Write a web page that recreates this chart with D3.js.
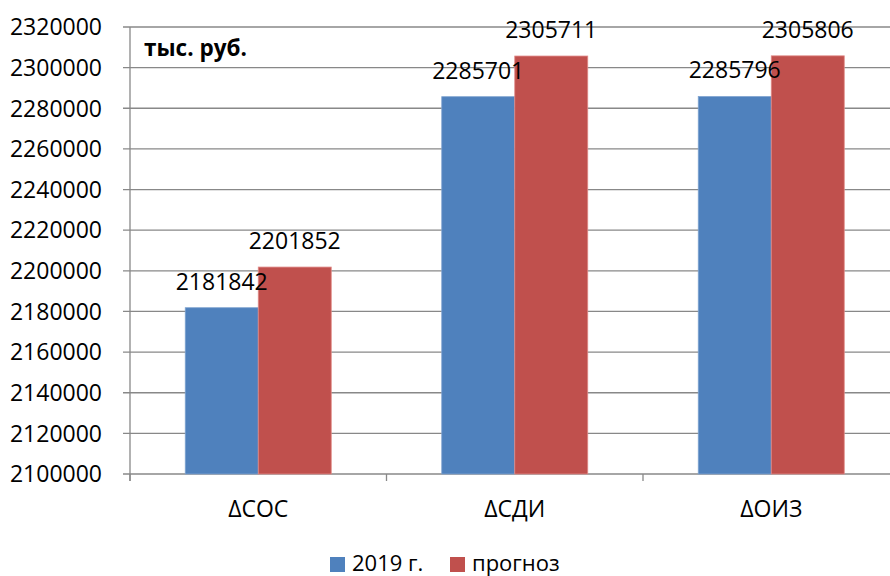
<!DOCTYPE html>
<html>
<head>
<meta charset="utf-8">
<script src="https://cdn.jsdelivr.net/npm/d3@7/dist/d3.min.js"></script>
<style>
html,body{margin:0;padding:0;background:#fff;overflow:hidden;}
text{font-family:"Open Sans","Noto Sans",sans-serif;}
</style>
</head>
<body>
<svg id="chart" width="890" height="576"></svg>
<script>
const categories = ["ΔСОС", "ΔСДИ", "ΔОИЗ"];
const seriesNames = ["2019 г.", "прогноз"];
const values2019 = [2181842, 2285701, 2285796];
const valuesForecast = [2201852, 2305711, 2305806];
const yTicks = [2100000, 2120000, 2140000, 2160000, 2180000, 2200000, 2220000, 2240000, 2260000, 2280000, 2300000, 2320000];
const colors = ["#4F81BD", "#C0504D"];
const unitLabel = "тыс. руб.";

const svg = d3.select("#chart");
const pLeft = 130, pTop = 27, pBottom = 474, pRight = 899.5;

const x0 = d3.scaleBand().domain(categories).range([pLeft, pRight]).paddingInner(0).paddingOuter(0);
const bw = x0.bandwidth();
const groupPad = bw * 0.2154;
const x1 = d3.scaleBand().domain(seriesNames).range([groupPad, bw - groupPad]).padding(0);
const y = d3.scaleLinear().domain([2100000, 2320000]).range([pBottom, pTop]);

const data = categories.map((c, i) => ({cat: c, vals: [values2019[i], valuesForecast[i]]}));

// gridlines
svg.append("g").selectAll("line").data(yTicks).join("line")
  .attr("x1", pLeft - 7).attr("x2", 890)
  .attr("y1", d => y(d)).attr("y2", d => y(d))
  .attr("stroke", "#888").attr("stroke-width", 1.3);

// y axis line
svg.append("line").attr("x1", pLeft).attr("x2", pLeft).attr("y1", pTop).attr("y2", pBottom + 7)
  .attr("stroke", "#888").attr("stroke-width", 1.3);

// category ticks
svg.append("g").selectAll("line").data(categories).join("line")
  .attr("x1", d => x0(d)).attr("x2", d => x0(d))
  .attr("y1", pBottom).attr("y2", pBottom + 7)
  .attr("stroke", "#888").attr("stroke-width", 1.3);

// y tick labels
svg.append("g").selectAll("text").data(yTicks).join("text")
  .attr("x", 102).attr("y", d => y(d)).attr("dy", "0.36em")
  .attr("text-anchor", "end").attr("font-size", 23).attr("fill", "#000")
  .text(d => d);

// bars
const groups = svg.append("g").selectAll("g").data(data).join("g")
  .attr("transform", d => `translate(${x0(d.cat)},0)`);
groups.selectAll("rect").data(d => d.vals.map((v, j) => ({v, s: seriesNames[j], j}))).join("rect")
  .attr("x", d => x1(d.s)).attr("width", x1.bandwidth())
  .attr("y", d => y(d.v)).attr("height", d => pBottom - y(d.v))
  .attr("fill", d => colors[d.j])
  .attr("stroke", d => d.j === 0 ? "#7fa3d0" : "#e08a88").attr("stroke-width", 0.8);

// value labels
groups.selectAll("text").data(d => d.vals.map((v, j) => ({v, s: seriesNames[j], j}))).join("text")
  .attr("x", d => x1(d.s) + x1.bandwidth() / 2)
  .attr("y", d => y(d.v) - 18)
  .attr("text-anchor", "middle").attr("font-size", 23).attr("fill", "#000")
  .text(d => d.v);

// category labels
svg.append("g").selectAll("text").data(categories).join("text")
  .attr("x", d => x0(d) + bw / 2).attr("y", 517)
  .attr("text-anchor", "middle").attr("font-size", 23).attr("fill", "#000")
  .text(d => d);

// unit label
svg.append("text").attr("x", 144).attr("y", 56)
  .attr("font-size", 22.5).attr("font-weight", "bold").attr("fill", "#000")
  .text(unitLabel);

// legend
const legendX = [330, 450];
const lg = svg.append("g").selectAll("g").data(seriesNames).join("g")
  .attr("transform", (d, i) => `translate(${legendX[i]},0)`);
lg.append("rect").attr("x", 0).attr("y", 557).attr("width", 15).attr("height", 15)
  .attr("fill", (d, i) => colors[i]);
lg.append("text").attr("x", 22).attr("y", 571).attr("font-size", 22).attr("fill", "#000")
  .text(d => d);
</script>
</body>
</html>
